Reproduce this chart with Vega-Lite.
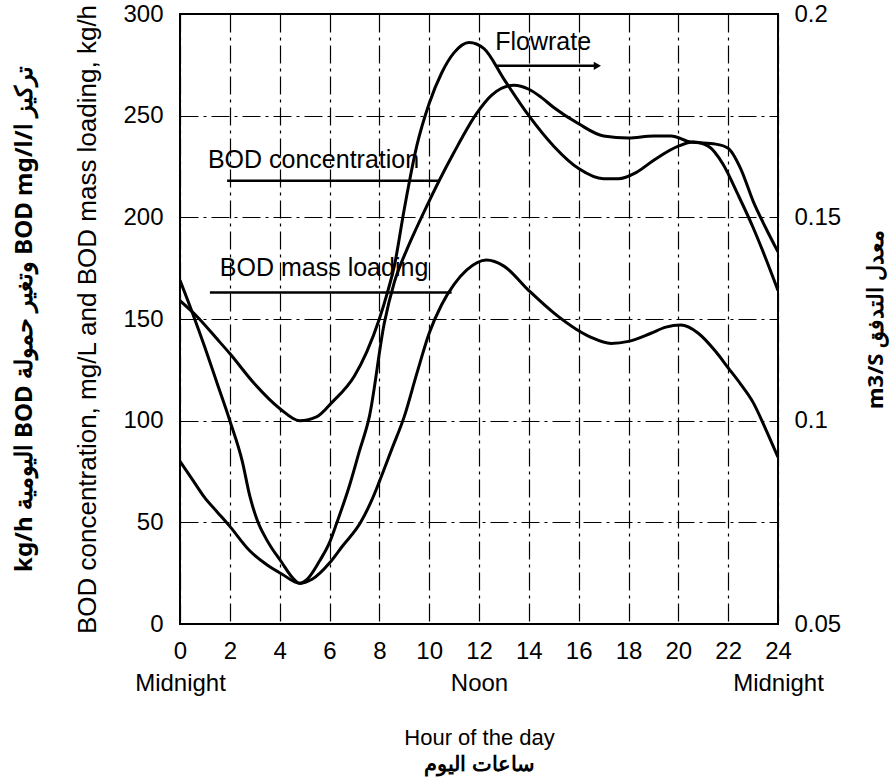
{
  "$schema": "https://vega.github.io/schema/vega-lite/v6.json",
  "width": 598,
  "height": 610,
  "autosize": {"type": "none"},
  "padding": {"left": 180, "top": 14, "right": 114, "bottom": 159},
  "background": "white",
  "config": {
    "view": {"stroke": "black", "strokeWidth": 2},
    "font": "Liberation Sans",
    "axis": {
      "domain": false,
      "ticks": false,
      "grid": true,
      "gridColor": "black",
      "gridOpacity": 1,
      "gridWidth": 1.2,
      "gridDash": [18, 5, 3, 5],
      "labelFont": "Liberation Sans",
      "labelFontSize": 24,
      "labelColor": "black",
      "titleFont": "Liberation Sans",
      "titleColor": "black",
      "titleFontWeight": "normal"
    }
  },
  "title": {
    "text": "‫تركيز ا/BOD mg/l وتغير حمولة BOD اليومية kg/h‬",
    "orient": "left",
    "anchor": "middle",
    "font": "Noto Sans",
    "fontSize": 24,
    "fontWeight": "bold",
    "color": "black",
    "offset": 38
  },
  "datasets": {
    "bod": [
      {"hour": 0, "value": 169, "series": "conc"},
      {"hour": 0.5, "value": 153, "series": "conc"},
      {"hour": 1, "value": 136, "series": "conc"},
      {"hour": 1.5, "value": 118, "series": "conc"},
      {"hour": 2, "value": 100, "series": "conc"},
      {"hour": 2.5, "value": 80, "series": "conc"},
      {"hour": 2.8, "value": 63, "series": "conc"},
      {"hour": 3.1, "value": 51, "series": "conc"},
      {"hour": 3.5, "value": 41, "series": "conc"},
      {"hour": 4.1, "value": 30, "series": "conc"},
      {"hour": 4.5, "value": 23, "series": "conc"},
      {"hour": 4.8, "value": 20, "series": "conc"},
      {"hour": 5.1, "value": 22, "series": "conc"},
      {"hour": 5.6, "value": 31, "series": "conc"},
      {"hour": 6, "value": 40, "series": "conc"},
      {"hour": 6.3, "value": 50, "series": "conc"},
      {"hour": 6.8, "value": 68, "series": "conc"},
      {"hour": 7.2, "value": 85, "series": "conc"},
      {"hour": 7.6, "value": 102, "series": "conc"},
      {"hour": 8.2, "value": 148, "series": "conc"},
      {"hour": 8.6, "value": 168, "series": "conc"},
      {"hour": 9.1, "value": 184, "series": "conc"},
      {"hour": 9.5, "value": 195, "series": "conc"},
      {"hour": 10, "value": 208, "series": "conc"},
      {"hour": 10.4, "value": 218, "series": "conc"},
      {"hour": 11, "value": 232, "series": "conc"},
      {"hour": 11.9, "value": 251, "series": "conc"},
      {"hour": 12.5, "value": 260, "series": "conc"},
      {"hour": 13.4, "value": 265, "series": "conc"},
      {"hour": 14, "value": 263, "series": "conc"},
      {"hour": 14.5, "value": 259, "series": "conc"},
      {"hour": 15, "value": 254, "series": "conc"},
      {"hour": 16, "value": 246, "series": "conc"},
      {"hour": 17, "value": 240, "series": "conc"},
      {"hour": 18, "value": 239, "series": "conc"},
      {"hour": 19, "value": 240, "series": "conc"},
      {"hour": 19.7, "value": 240, "series": "conc"},
      {"hour": 20.5, "value": 237, "series": "conc"},
      {"hour": 21.5, "value": 236, "series": "conc"},
      {"hour": 22, "value": 234, "series": "conc"},
      {"hour": 22.5, "value": 224, "series": "conc"},
      {"hour": 23, "value": 208, "series": "conc"},
      {"hour": 23.5, "value": 195, "series": "conc"},
      {"hour": 24, "value": 183, "series": "conc"},
      {"hour": 0, "value": 80, "series": "mass"},
      {"hour": 0.5, "value": 71, "series": "mass"},
      {"hour": 1, "value": 62, "series": "mass"},
      {"hour": 1.5, "value": 55, "series": "mass"},
      {"hour": 2, "value": 48, "series": "mass"},
      {"hour": 2.8, "value": 36, "series": "mass"},
      {"hour": 3.5, "value": 29, "series": "mass"},
      {"hour": 4.1, "value": 24.5, "series": "mass"},
      {"hour": 4.8, "value": 20, "series": "mass"},
      {"hour": 5.3, "value": 22, "series": "mass"},
      {"hour": 6, "value": 30, "series": "mass"},
      {"hour": 6.5, "value": 38, "series": "mass"},
      {"hour": 7.25, "value": 50, "series": "mass"},
      {"hour": 7.7, "value": 61, "series": "mass"},
      {"hour": 8, "value": 70, "series": "mass"},
      {"hour": 8.5, "value": 86, "series": "mass"},
      {"hour": 9, "value": 102, "series": "mass"},
      {"hour": 9.5, "value": 123, "series": "mass"},
      {"hour": 10, "value": 143, "series": "mass"},
      {"hour": 10.5, "value": 157, "series": "mass"},
      {"hour": 11, "value": 167, "series": "mass"},
      {"hour": 11.5, "value": 174, "series": "mass"},
      {"hour": 12.3, "value": 179, "series": "mass"},
      {"hour": 13, "value": 176, "series": "mass"},
      {"hour": 14, "value": 164, "series": "mass"},
      {"hour": 15, "value": 153, "series": "mass"},
      {"hour": 15.9, "value": 145, "series": "mass"},
      {"hour": 16.5, "value": 141, "series": "mass"},
      {"hour": 17.3, "value": 138, "series": "mass"},
      {"hour": 18, "value": 139, "series": "mass"},
      {"hour": 18.9, "value": 143, "series": "mass"},
      {"hour": 19.5, "value": 146, "series": "mass"},
      {"hour": 20.1, "value": 147, "series": "mass"},
      {"hour": 20.8, "value": 143, "series": "mass"},
      {"hour": 21.5, "value": 134, "series": "mass"},
      {"hour": 22, "value": 126, "series": "mass"},
      {"hour": 22.5, "value": 118, "series": "mass"},
      {"hour": 23, "value": 109, "series": "mass"},
      {"hour": 23.5, "value": 96, "series": "mass"},
      {"hour": 24, "value": 82, "series": "mass"}
    ],
    "flow": [
      {"hour": 0, "flow": 0.1295},
      {"hour": 0.7, "flow": 0.1255},
      {"hour": 1.5, "flow": 0.12},
      {"hour": 2, "flow": 0.1165},
      {"hour": 3, "flow": 0.109},
      {"hour": 4, "flow": 0.103},
      {"hour": 4.8, "flow": 0.1},
      {"hour": 5.5, "flow": 0.101},
      {"hour": 6.1, "flow": 0.1045},
      {"hour": 7, "flow": 0.111},
      {"hour": 7.5, "flow": 0.117},
      {"hour": 8, "flow": 0.125},
      {"hour": 8.3, "flow": 0.131},
      {"hour": 8.6, "flow": 0.138},
      {"hour": 9, "flow": 0.152},
      {"hour": 9.5, "flow": 0.1675},
      {"hour": 10, "flow": 0.178},
      {"hour": 10.5, "flow": 0.1855},
      {"hour": 11, "flow": 0.1905},
      {"hour": 11.6, "flow": 0.193},
      {"hour": 12.2, "flow": 0.1915},
      {"hour": 13, "flow": 0.184},
      {"hour": 14, "flow": 0.175},
      {"hour": 15, "flow": 0.1675},
      {"hour": 16, "flow": 0.162},
      {"hour": 17, "flow": 0.1595},
      {"hour": 17.6, "flow": 0.1595},
      {"hour": 18.3, "flow": 0.161},
      {"hour": 19, "flow": 0.164},
      {"hour": 20, "flow": 0.1675},
      {"hour": 20.6, "flow": 0.1685},
      {"hour": 21.2, "flow": 0.1675},
      {"hour": 21.8, "flow": 0.163},
      {"hour": 22.4, "flow": 0.1555},
      {"hour": 23, "flow": 0.1475},
      {"hour": 23.5, "flow": 0.14},
      {"hour": 24, "flow": 0.132}
    ],
    "labels": [
      {"hour": 12.65, "value": 286, "text": "Flowrate"},
      {"hour": 1.12, "value": 228, "text": "BOD concentration"},
      {"hour": 1.6, "value": 175, "text": "BOD mass loading"}
    ],
    "leaders": [
      {"hour": 12.73, "hour2": 16.7, "value": 274.5},
      {"hour": 1.89, "hour2": 10.36, "value": 218},
      {"hour": 1.2, "hour2": 10.9, "value": 163}
    ],
    "arrow": [
      {"hour": 16.75, "value": 274.5}
    ]
  },
  "layer": [
    {
      "layer": [
        {
          "data": {"name": "bod"},
          "mark": {"type": "line", "color": "black", "strokeWidth": 3, "interpolate": "monotone", "clip": true},
          "encoding": {
            "x": {
              "field": "hour",
              "type": "quantitative",
              "scale": {"domain": [0, 24], "nice": false},
              "axis": {
                "values": [0, 2, 4, 6, 8, 10, 12, 14, 16, 18, 20, 22, 24],
                "labelExpr": "datum.value == 0 ? ['0', 'Midnight'] : datum.value == 12 ? ['12', 'Noon'] : datum.value == 24 ? ['24', 'Midnight'] : datum.label",
                "labelLineHeight": 32,
                "labelPadding": 15,
                "labelOverlap": false,
                "labelBound": false,
                "labelFlush": false,
                "title": "Hour of the day",
                "titleFontSize": 22,
                "titlePadding": 32
              }
            },
            "y": {
              "field": "value",
              "type": "quantitative",
              "scale": {"domain": [0, 300], "nice": false},
              "axis": {
                "values": [0, 50, 100, 150, 200, 250, 300],
                "labelPadding": 17,
                "title": "BOD concentration, mg/L and BOD mass loading, kg/h",
                "titleFontSize": 26,
                "titlePadding": 22
              }
            },
            "detail": {"field": "series"}
          }
        },
        {
          "data": {"name": "leaders"},
          "mark": {"type": "rule", "color": "black", "strokeWidth": 2.5},
          "encoding": {
            "x": {"field": "hour", "type": "quantitative"},
            "x2": {"field": "hour2"},
            "y": {"field": "value", "type": "quantitative"}
          }
        },
        {
          "data": {"name": "arrow"},
          "mark": {"type": "point", "shape": "triangle-right", "filled": true, "color": "black", "size": 70, "opacity": 1},
          "encoding": {
            "x": {"field": "hour", "type": "quantitative"},
            "y": {"field": "value", "type": "quantitative"}
          }
        },
        {
          "data": {"name": "labels"},
          "mark": {"type": "text", "align": "left", "baseline": "middle", "font": "Liberation Sans", "fontSize": 25, "color": "black"},
          "encoding": {
            "x": {"field": "hour", "type": "quantitative"},
            "y": {"field": "value", "type": "quantitative"},
            "text": {"field": "text"}
          }
        }
      ]
    },
    {
      "data": {"name": "flow"},
      "mark": {"type": "line", "color": "black", "strokeWidth": 3, "interpolate": "monotone", "clip": true},
      "encoding": {
        "x": {
          "field": "hour",
          "type": "quantitative",
          "axis": {
            "orient": "bottom",
            "grid": false,
            "labels": false,
            "title": "ساعات اليوم",
            "titleFont": "Noto Sans",
            "titleFontWeight": "bold",
            "titleFontSize": 21,
            "titlePadding": 129
          }
        },
        "y": {
          "field": "flow",
          "type": "quantitative",
          "scale": {"domain": [0.05, 0.2], "nice": false},
          "axis": {
            "orient": "right",
            "grid": false,
            "values": [0.05, 0.1, 0.15, 0.2],
            "format": "~g",
            "labelPadding": 16,
            "title": "‫معدل  التدفق  m3/S‬",
            "titleFont": "Noto Sans",
            "titleFontWeight": "bold",
            "titleFontSize": 22,
            "titleAngle": 270,
            "titlePadding": 47
          }
        }
      }
    }
  ],
  "resolve": {"scale": {"y": "independent"}, "axis": {"x": "independent"}}
}
